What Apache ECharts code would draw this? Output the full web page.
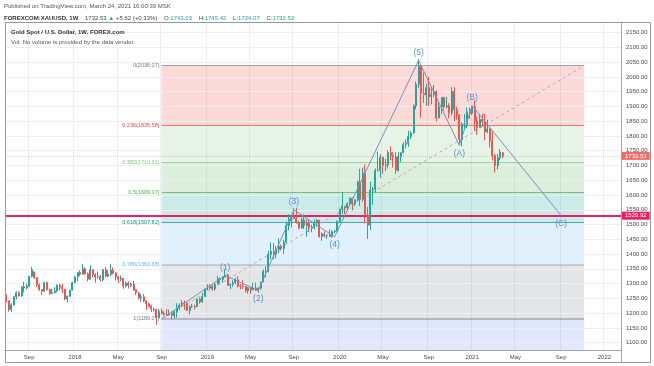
<!DOCTYPE html>
<html><head><meta charset="utf-8">
<script src="https://cdn.jsdelivr.net/npm/echarts@6/dist/echarts.min.js"></script>
<style>html,body{margin:0;padding:0;background:#fff}#c{width:654px;height:366px}</style>
</head><body><div id="c"></div>
<script>
const FONT = '"Liberation Sans", Arial, sans-serif';

// ---- time axis: weekly bars (Monday dates) ----
const firstWeek = [2017, 5, 26];   // 2017-06-26
const weekCount = 242;
const labelMonths = [0, 4, 8];
const monthNames = ['Jan','Feb','Mar','Apr','May','Jun','Jul','Aug','Sep','Oct','Nov','Dec'];

// ---- weekly candles [open, close, low, high] ----
const w2017 = [
[1256,1242,1236,1263],[1242,1212,1205,1242],[1212,1228,1204,1233],[1228,1255,1225,1257],[1255,1269,1246,1274],
[1269,1258,1256,1274],[1258,1289,1255,1291],[1289,1285,1270,1306],[1285,1291,1280,1300],[1291,1325,1288,1326],
[1325,1347,1321,1357],[1340,1320,1316,1340],[1320,1297,1288,1322],[1297,1280,1275,1300],[1280,1274,1261,1281],
[1274,1304,1272,1306],[1304,1280,1276,1306],[1280,1266,1262,1283],[1266,1269,1264,1283],[1269,1275,1267,1288],
[1275,1294,1271,1297],[1294,1288,1276,1299],[1288,1281,1268,1299],[1281,1248,1244,1281],[1248,1257,1236,1260],
[1257,1278,1254,1279],[1278,1303,1277,1306]];
const w2018 = [
[1303,1322,1302,1326],[1322,1338,1307,1338],[1338,1332,1326,1345],[1332,1350,1331,1366],[1350,1333,1330,1355],
[1333,1315,1307,1338],[1315,1347,1314,1362],[1347,1330,1321,1349],[1330,1323,1303,1335],[1323,1324,1316,1341],
[1324,1313,1307,1329],[1313,1347,1308,1349],[1347,1325,1322,1356],[1325,1332,1321,1345],[1332,1345,1326,1366],
[1345,1336,1331,1354],[1336,1323,1310,1338],[1323,1315,1302,1326],[1315,1318,1307,1327],[1318,1292,1282,1318],
[1292,1302,1287,1307],[1302,1294,1283,1307],[1294,1298,1288,1303],[1298,1279,1275,1309],[1279,1269,1261,1282],
[1269,1252,1246,1271],[1252,1255,1238,1265],[1255,1241,1237,1265],[1241,1231,1211,1243],[1231,1223,1219,1236],
[1223,1214,1204,1228],[1214,1212,1205,1219],[1212,1184,1160,1214],[1184,1206,1183,1214],[1206,1199,1195,1215],
[1199,1196,1190,1206],[1196,1194,1192,1214],[1194,1199,1192,1212],[1199,1192,1180,1205],[1192,1203,1182,1208],
[1203,1218,1185,1233],[1218,1227,1211,1233],[1227,1234,1221,1243],[1234,1233,1211,1243],[1233,1209,1208,1237],
[1209,1222,1196,1226],[1222,1223,1218,1231],[1223,1222,1212,1229],[1222,1248,1220,1250],[1248,1238,1232,1253],
[1238,1256,1235,1268],[1256,1281,1256,1283]];
const w2019 = [
[1281,1285,1277,1298],[1285,1290,1280,1298],[1290,1282,1276,1298],[1282,1298,1276,1304],[1298,1317,1298,1326],
[1317,1314,1302,1320],[1314,1322,1303,1323],[1322,1329,1320,1347],[1329,1294,1292,1334],[1294,1298,1281,1300],
[1298,1302,1289,1311],[1302,1313,1299,1320],[1313,1292,1287,1325],[1292,1291,1281,1298],[1291,1290,1282,1311],
[1290,1276,1270,1291],[1276,1286,1266,1288],[1286,1279,1266,1289],[1279,1285,1277,1303],[1285,1277,1275,1303],
[1277,1284,1269,1287],[1284,1305,1279,1306],[1305,1341,1305,1348],[1341,1341,1322,1358],[1341,1399,1338,1411],
[1399,1409,1382,1439],[1409,1399,1382,1437],[1399,1415,1386,1427],[1415,1426,1403,1453],[1426,1419,1412,1433],
[1419,1440,1400,1449],[1440,1497,1437,1510],[1497,1513,1480,1535],[1513,1527,1491,1527],[1527,1520,1518,1555],
[1520,1507,1503,1557],[1507,1488,1484,1512],[1488,1516,1486,1523],[1516,1497,1485,1535],[1497,1504,1459,1519],
[1504,1488,1474,1517],[1488,1490,1474,1499],[1490,1505,1483,1517],[1505,1514,1492,1519],[1514,1459,1456,1516],
[1459,1468,1445,1474],[1468,1462,1457,1477],[1462,1464,1452,1466],[1464,1460,1458,1484],[1460,1476,1455,1480],
[1476,1478,1470,1481],[1478,1510,1477,1514]];
const w2020 = [
[1510,1552,1508,1553],[1552,1562,1536,1611],[1562,1557,1536,1563],[1557,1571,1546,1575],[1571,1589,1562,1591],
[1589,1570,1548,1591],[1570,1584,1562,1585],[1584,1643,1580,1649],[1643,1585,1563,1689],[1585,1674,1577,1692],
[1674,1530,1504,1703],[1530,1498,1451,1560],[1498,1617,1482,1645],[1617,1620,1567,1627],[1620,1683,1609,1690],
[1683,1683,1680,1747],[1683,1727,1659,1738],[1727,1700,1672,1730],[1700,1702,1681,1723],[1702,1744,1690,1752],
[1744,1734,1717,1765],[1734,1730,1693,1745],[1730,1683,1671,1745],[1683,1730,1679,1745],[1730,1743,1711,1745],
[1743,1771,1742,1779],[1771,1775,1757,1789],[1775,1798,1763,1818],[1798,1810,1789,1816],[1810,1902,1807,1906],
[1902,1975,1891,1984],[1975,2035,1963,2060],[2035,1944,1862,2042],[1944,1940,1912,2015],[1940,1964,1902,1977],
[1964,1933,1902,2000],[1933,1940,1907,1966],[1940,1950,1931,1973],[1950,1861,1849,1955],[1861,1899,1860,1917],
[1899,1930,1873,1932],[1930,1899,1887,1933],[1899,1902,1893,1933],[1902,1879,1860,1911],[1879,1951,1870,1965],
[1951,1889,1850,1965],[1889,1871,1855,1899],[1871,1788,1774,1874],[1788,1839,1764,1847],[1839,1839,1820,1875],
[1839,1882,1826,1897],[1882,1877,1858,1896]];
const w2021 = [
[1877,1898,1871,1900],[1898,1850,1817,1920],[1850,1829,1803,1865],[1829,1856,1829,1875],[1856,1848,1831,1875],
[1848,1814,1785,1875],[1814,1824,1809,1855],[1824,1784,1761,1826],[1784,1734,1717,1816],[1734,1700,1676,1739],
[1700,1727,1687,1740],[1727,1745,1718,1755],[1743.03,1732.53,1724.07,1745.42]];

// ---- price axis ----
const yMin = 1075, yMax = 2186;
const priceTicks = [1100,1150,1200,1250,1300,1350,1400,1450,1500,1550,1600,1650,1700,1750,1800,1850,1900,1950,2000,2050,2100,2150];

// ---- Fibonacci retracement ----
const fibStart = '2018-08-27', fibEnd = '2021-11-01';
const fibRatios = ['0', '0.236', '0.382', '0.5', '0.618', '0.786', '1', '1.618'];
const fibPrices = [2038.07, 1835.58, 1710.31, 1609.07, 1507.82, 1363.68, 1180.07, 649.79];
const fibColors = ['#787b86', '#f44336', '#81c784', '#4caf50', '#009688', '#64b5f6', '#787b86', '#2962ff'];

// ---- Elliott wave count ----
const waveDates  = ['2018-08-27','2019-02-18','2019-05-20','2019-08-26','2019-12-16','2020-08-03','2020-11-23','2020-12-28','2021-08-30'];
const wavePrices = [1180.07, 1328, 1276, 1550, 1458, 2056, 1768, 1903, 1529.92];
const waveNames  = ['', '(1)', '(2)', '(3)', '(4)', '(5)', '(A)', '(B)', '(C)'];
const waveSides  = ['top', 'top', 'bottom', 'top', 'bottom', 'top', 'bottom', 'top', 'bottom'];

// ---- horizontal price lines ----
const supportLevel = 1529.92;
const lastPrice = 1732.53;

// ===== build =====
const categories = [];
for (let i = 0; i < weekCount; i++) {
  const d = new Date(Date.UTC(firstWeek[0], firstWeek[1], firstWeek[2] + 7 * i));
  categories.push(d.toISOString().slice(0, 10));
}
function weekLabel(dateStr) {
  const d = new Date(dateStr + 'T00:00:00Z');
  const e = new Date(d.getTime() + 6 * 86400000);
  if (e.getUTCDate() > 7) return null;
  const m = e.getUTCMonth();
  if (labelMonths.indexOf(m) < 0) return null;
  return m === 0 ? String(e.getUTCFullYear()) : monthNames[m];
}
const candles = [].concat(w2017, w2018, w2019, w2020, w2021);

const zones = [];
for (let i = 1; i < fibPrices.length; i++) {
  const alpha = i === 7 ? 0.15 : 0.2;
  zones.push([
    { xAxis: fibStart, yAxis: fibPrices[i - 1], itemStyle: { color: echarts.color.modifyAlpha(fibColors[i], alpha) } },
    { xAxis: fibEnd, yAxis: Math.max(fibPrices[i], yMin) }
  ]);
}
const levelLines = [];
for (let i = 0; i < 7; i++) {
  const lineAlpha = i === 5 ? 0.45 : (i === 6 ? 0.6 : 0.7);
  levelLines.push([
    { coord: [fibStart, fibPrices[i]],
      lineStyle: { color: echarts.color.modifyAlpha(i === 5 ? '#7d93ad' : fibColors[i], lineAlpha), width: (i === 5 || i === 6) ? 1.5 : 1, type: 'solid' },
      label: { show: true, position: 'start', distance: 2, formatter: fibRatios[i] + '(' + fibPrices[i].toFixed(2) + ')',
               color: fibColors[i], fontSize: 5.5, fontFamily: FONT, padding: [0, 0, 7, 0] } },
    { coord: [fibEnd, fibPrices[i]] }
  ]);
}
levelLines.push([
  { coord: [fibStart, fibPrices[6]], lineStyle: { color: '#c9a3ad', width: 1, type: [3, 3] }, label: { show: false } },
  { coord: [fibEnd, fibPrices[0]] }
]);

const waveData = waveDates.map((d, i) => ({
  value: [d, wavePrices[i]],
  label: { show: waveNames[i] !== '', position: waveSides[i], formatter: waveNames[i], distance: 3,
           color: '#5b8fd0', fontSize: 8.5, fontFamily: FONT }
}));

const chart = echarts.init(document.getElementById('c'), null, { renderer: 'canvas' });
chart.setOption({
  animation: false,
  backgroundColor: '#ffffff',
  grid: { left: 5, right: 33, top: 22, bottom: 16, containLabel: false },
  xAxis: {
    type: 'category', data: categories, boundaryGap: true,
    axisLine: { show: true, lineStyle: { color: '#a3a6af' } },
    axisTick: { show: false },
    axisLabel: { interval: (i, v) => weekLabel(v) !== null, formatter: v => weekLabel(v) || '',
                 fontSize: 6, color: '#4a4a4a', margin: 4, fontFamily: FONT },
    splitLine: { show: true, interval: (i, v) => weekLabel(v) !== null, lineStyle: { color: '#eceef2', width: 1 } }
  },
  yAxis: {
    type: 'value', position: 'right', min: yMin, max: yMax, interval: 25,
    axisLine: { show: true, lineStyle: { color: '#a3a6af' } },
    axisTick: { show: false }, splitLine: { show: false },
    axisLabel: { formatter: v => priceTicks.indexOf(v) >= 0 ? v.toFixed(2) : '', fontSize: 6, color: '#4a4a4a',
                 margin: 5, fontFamily: FONT, showMaxLabel: false }
  },
  series: [
    { type: 'line', name: 'grid', data: [], silent: true, z: 0,
      markLine: { silent: true, symbol: ['none', 'none'], animation: false, label: { show: false },
                  lineStyle: { color: '#eceef2', width: 1, type: 'solid' },
                  data: priceTicks.map(p => ({ yAxis: p })) } },
    { type: 'line', name: 'fib', data: [], silent: true, z: 1,
      markArea: { silent: true, data: zones },
      markLine: { silent: true, symbol: ['none', 'none'], animation: false, data: levelLines } },
    { type: 'candlestick', name: 'XAUUSD', data: candles, barWidth: '62%', z: 5,
      itemStyle: { color: '#26a69a', color0: '#ef5350', borderColor: '#26a69a', borderColor0: '#ef5350', borderWidth: 1 } },
    { type: 'line', name: 'waves', data: waveData, z: 6, symbol: 'circle', symbolSize: 1, showSymbol: true,
      itemStyle: { color: 'rgba(0,0,0,0)' }, lineStyle: { color: '#7592bb', width: 1 },
      label: { show: true } },
    { type: 'line', name: 'levels', data: [], silent: true, z: 8,
      markLine: { silent: true, symbol: ['none', 'none'], animation: false,
        data: [
          { yAxis: lastPrice, lineStyle: { color: 'rgba(239,83,80,0.35)', width: 1, type: 'dotted' },
            label: { show: true, position: 'end', distance: 1, formatter: lastPrice.toFixed(2), color: '#ffffff',
                     backgroundColor: '#f06b6b', padding: [1, 3, 1, 3], fontSize: 6, fontFamily: FONT } },
          { yAxis: supportLevel, lineStyle: { color: '#e91e63', width: 2, type: 'solid' },
            label: { show: true, position: 'end', distance: 1, formatter: supportLevel.toFixed(2), color: '#ffffff',
                     backgroundColor: '#e91e63', padding: [1, 3, 1, 3], fontSize: 6, fontFamily: FONT } }
        ] } }
  ],
  graphic: [
    { type: 'rect', silent: true, z: 100, shape: { x: 5.5, y: 22.5, width: 645, height: 340 },
      style: { fill: 'none', stroke: '#9598a1', lineWidth: 1 } },
    { type: 'line', silent: true, z: 100, shape: { x1: 621.5, y1: 350, x2: 621.5, y2: 363 },
      style: { stroke: '#a3a6af', lineWidth: 1 } },
    { type: 'text', left: 4, top: 3, z: 100, style: { text: 'Published on TradingView.com, March 24, 2021 16:00:39 MSK',
      font: '6px ' + FONT, fill: '#555' } },
    { type: 'text', left: 4, top: 12, z: 100, style: {
      text: '{b|FOREXCOM:XAUUSD, 1W}  {n|1732.53}{g| ▲ }{n|+5.62 (+0.33%)}  {n|O:}{v|1743.03}  {n|H:}{v|1745.42}  {n|L:}{v|1724.07}  {n|C:}{v|1732.53}',
      rich: {
        b: { fontWeight: 'bold', fontSize: 6, fill: '#333', fontFamily: FONT },
        n: { fontSize: 6, fill: '#444', fontFamily: FONT },
        g: { fontSize: 6, fill: '#26a69a', fontFamily: FONT },
        v: { fontSize: 6, fill: '#26a69a', fontFamily: FONT }
      } } },
    { type: 'text', left: 11, top: 29, z: 100, style: { text: 'Gold Spot / U.S. Dollar, 1W, FOREX.com',
      font: 'bold 6px ' + FONT, fill: '#333' } },
    { type: 'text', left: 11, top: 39, z: 100, style: { text: 'Vol: No volume is provided by the data vendor.',
      font: '6px ' + FONT, fill: '#555' } }
  ]
});
</script>
</body></html>
